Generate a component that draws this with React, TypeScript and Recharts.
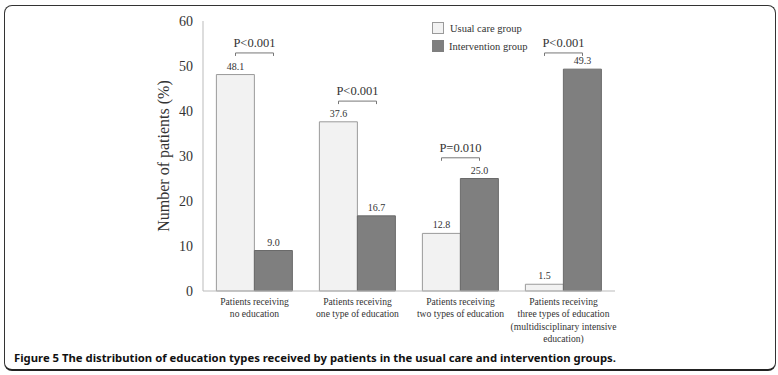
import React from 'react';
import { ComposedChart, Bar, Line, XAxis, YAxis, LabelList } from 'recharts';

const categories = [
  'Patients receiving\nno education',
  'Patients receiving\none type of education',
  'Patients receiving\ntwo types of education',
  'Patients receiving\nthree types of education\n(multidisciplinary intensive\neducation)',
];
const usualCare = [48.1, 37.6, 12.8, 1.5];
const intervention = [9.0, 16.7, 25.0, 49.3];
const pLabels = ['P<0.001', 'P<0.001', 'P=0.010', 'P<0.001'];
const bracketLevel = [52.9, 42.2, 29.6, 52.9];
const yTicks = [0, 10, 20, 30, 40, 50, 60];

const SERIF = '"Liberation Serif", "Times New Roman", serif';

const COLORS = {
  usual: '#f2f2f2',
  usualStroke: '#9a9a9a',
  intervention: '#7f7f7f',
  interventionStroke: '#6a6a6a',
  text: '#333',
};

const data = categories.map((name, i) => ({
  name,
  usual: usualCare[i],
  intervention: intervention[i],
  bracket: bracketLevel[i],
}));

// multi-line category labels under the x axis
const CategoryTick = (props: any) => {
  const { x, y, payload } = props;
  const lines = String(payload.value).split('\n');
  return (
    <text x={x} y={y + 6} textAnchor="middle" style={{ fontFamily: SERIF, fontSize: 9.6 }} fill={COLORS.text}>
      {lines.map((l, i) => (
        <tspan key={i} x={x} dy={i === 0 ? 0 : 12.3}>{l}</tspan>
      ))}
    </text>
  );
};

// significance bracket drawn at the group centre
const renderBracket = (props: any) => {
  const { cx, cy, index } = props;
  if (cx == null || cy == null) return <g key={`b-${index}`} />;
  return (
    <g key={`b-${index}`}>
      <path
        d={`M${cx - 19},${cy + 3}V${cy}H${cx + 19}V${cy + 3}`}
        stroke="#777"
        strokeWidth={1}
        fill="none"
      />
      <text x={cx} y={cy - 6} textAnchor="middle" style={{ fontFamily: SERIF, fontSize: 12.5 }} fill={COLORS.text}>
        {pLabels[index]}
      </text>
    </g>
  );
};

export default function App() {
  return (
    <div style={{ position: 'absolute', left: 0, top: 0, width: 778, height: 375, background: '#fff' }}>
      <style>{'body{margin:0}'}</style>
      <div
        style={{
          position: 'absolute',
          left: 4,
          top: 5,
          width: 772,
          height: 366,
          border: '1px solid #333',
          borderBottom: '2px solid #222',
          borderRadius: 8,
          boxSizing: 'border-box',
        }}
      />
      <div style={{ position: 'absolute', left: 0, top: 0 }}>
        <ComposedChart
          width={778}
          height={346}
          data={data}
          margin={{ top: 21, right: 163, bottom: 5, left: 150 }}
          barCategoryGap="13%"
          barGap={0}
        >
          <XAxis
            dataKey="name"
            height={50}
            tick={<CategoryTick />}
            tickLine={false}
            axisLine={{ stroke: '#bbb' }}
            interval={0}
          />
          <YAxis
            width={53}
            domain={[0, 60]}
            ticks={yTicks}
            tickLine={false}
            axisLine={{ stroke: '#bbb' }}
            tick={{ fontFamily: SERIF, fontSize: 14, fill: COLORS.text }}
            tickMargin={4}
            label={{
              value: 'Number of patients (%)',
              angle: -90,
              position: 'insideLeft',
              offset: 13,
              style: { fontFamily: SERIF, fontSize: 16, fill: COLORS.text, textAnchor: 'middle' },
            }}
          />
          <Bar dataKey="usual" fill={COLORS.usual} stroke={COLORS.usualStroke} isAnimationActive={false}>
            <LabelList dataKey="usual" position="top" offset={5} fontFamily={SERIF} fontSize={10} fill={COLORS.text} formatter={(v: any) => Number(v).toFixed(1)} />
          </Bar>
          <Bar dataKey="intervention" fill={COLORS.intervention} stroke={COLORS.interventionStroke} isAnimationActive={false}>
            <LabelList dataKey="intervention" position="top" offset={5} fontFamily={SERIF} fontSize={10} fill={COLORS.text} formatter={(v: any) => Number(v).toFixed(1)} />
          </Bar>
          <Line
            dataKey="bracket"
            stroke="none"
            dot={renderBracket}
            activeDot={false}
            isAnimationActive={false}
            legendType="none"
          />
        </ComposedChart>
      </div>
      {/* legend */}
      <div style={{ position: 'absolute', left: 432, top: 19, fontFamily: SERIF, fontSize: 10.5, color: COLORS.text }}>
        <div style={{ display: 'flex', alignItems: 'center', height: 18 }}>
          <span style={{ width: 10, height: 10, background: COLORS.usual, border: `1px solid ${COLORS.usualStroke}`, marginRight: 6 }} />
          Usual care group
        </div>
        <div style={{ display: 'flex', alignItems: 'center', height: 18 }}>
          <span style={{ width: 12, height: 12, background: COLORS.intervention, marginRight: 5 }} />
          Intervention group
        </div>
      </div>
      <div
        style={{
          position: 'absolute',
          left: 14,
          top: 350,
          fontFamily: '"Noto Sans", "Open Sans", sans-serif',
          fontWeight: 700,
          fontSize: 11.3,
          color: '#111',
          whiteSpace: 'nowrap',
        }}
      >
        Figure 5 The distribution of education types received by patients in the usual care and intervention groups.
      </div>
    </div>
  );
}
